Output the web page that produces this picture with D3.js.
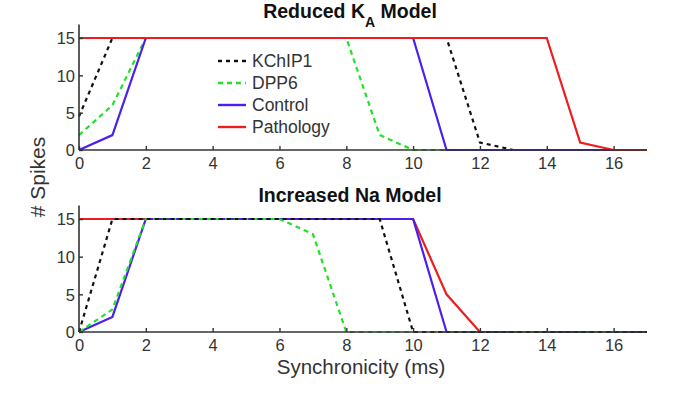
<!DOCTYPE html>
<html>
<head>
<meta charset="utf-8">
<script src="https://cdn.jsdelivr.net/npm/d3@7"></script>
<style>
  body { margin: 0; background: #fff; }
  svg { font-family: "Liberation Sans", Arial, Helvetica, sans-serif; }
</style>
</head>
<body>
<svg id="chart" width="685" height="393"></svg>
<script>
// x values shared by every series (ms)
const sync = [0, 1, 2, 3, 4, 5, 6, 7, 8, 9, 10, 11, 12, 13, 14, 15, 16, 17];
const xTicks = [0, 2, 4, 6, 8, 10, 12, 14, 16];
const yTicks = [0, 5, 10, 15];

// Reduced K_A model
const kaKChIP1   = [4.5, 15, 15, 15, 15, 15, 15, 15, 15, 15, 15, 15, 1, 0, 0, 0, 0, 0];
const kaDPP6     = [2, 6, 15, 15, 15, 15, 15, 15, 15, 2, 0, 0, 0, 0, 0, 0, 0, 0];
const kaControl  = [0, 2, 15, 15, 15, 15, 15, 15, 15, 15, 15, 0, 0, 0, 0, 0, 0, 0];
const kaPatho    = [15, 15, 15, 15, 15, 15, 15, 15, 15, 15, 15, 15, 15, 15, 15, 1, 0, 0];

// Increased Na model
const naKChIP1   = [0, 15, 15, 15, 15, 15, 15, 15, 15, 15, 0, 0, 0, 0, 0, 0, 0, 0];
const naDPP6     = [0, 3, 15, 15, 15, 15, 15, 13, 0, 0, 0, 0, 0, 0, 0, 0, 0, 0];
const naControl  = [0, 2, 15, 15, 15, 15, 15, 15, 15, 15, 15, 0, 0, 0, 0, 0, 0, 0];
const naPatho    = [15, 15, 15, 15, 15, 15, 15, 15, 15, 15, 15, 5, 0, 0, 0, 0, 0, 0];

const seriesNames = ['KChIP1', 'DPP6', 'Control', 'Pathology'];

const styles = {
  KChIP1:    { color: '#111', dash: '4,4' },
  DPP6:      { color: '#22e02a', dash: '5,4' },
  Control:   { color: '#4a1ff0', dash: null },
  Pathology: { color: '#ee1c1c', dash: null }
};

const svg = d3.select('#chart');
const x = d3.scaleLinear().domain([0, 17]).range([79, 647]);

function drawPanel(top, bottom, series, order) {
  const y = d3.scaleLinear().domain([0, 15]).range([bottom, top]);
  const g = svg.append('g');

  const line = d3.line()
    .x((d, i) => x(sync[i]))
    .y(d => y(d));

  order.forEach(name => {
    const st = styles[name];
    g.append('path')
      .datum(series[name])
      .attr('d', line)
      .attr('fill', 'none')
      .attr('stroke', st.color)
      .attr('stroke-width', 2.2)
      .attr('stroke-dasharray', st.dash);
  });

  // axes: ticks pointing inward like matlab
  const xAxis = g.append('g')
    .attr('transform', `translate(0,${bottom})`)
    .call(d3.axisBottom(x).tickValues(xTicks).tickSizeInner(-4).tickSizeOuter(0));
  const yAxis = g.append('g')
    .attr('transform', `translate(${x(0)},0)`)
    .call(d3.axisLeft(y).tickValues(yTicks).tickSizeInner(-4).tickSizeOuter(0));

  // y axis goes a bit above 15
  yAxis.select('.domain').attr('d', `M0,${y(16.8)}V${bottom}`);
  xAxis.select('.domain').attr('d', `M${x(0)},0H${x(17)}`);

  [xAxis, yAxis].forEach(a => {
    a.select('.domain').attr('stroke', '#333').attr('stroke-width', 1.6);
    a.selectAll('.tick line').attr('stroke', '#333').attr('stroke-width', 1.4);
    a.selectAll('.tick text').attr('fill', '#333').attr('font-size', 16.5);
  });
  xAxis.selectAll('.tick text').attr('y', 19).attr('dy', 0);
  yAxis.selectAll('.tick text').attr('x', -4).attr('dy', '0.36em');

  return { g, y };
}

// top panel
drawPanel(38, 150,
  { KChIP1: kaKChIP1, DPP6: kaDPP6, Control: kaControl, Pathology: kaPatho },
  ['KChIP1', 'DPP6', 'Control', 'Pathology']);

// bottom panel
drawPanel(219, 332,
  { KChIP1: naKChIP1, DPP6: naDPP6, Control: naControl, Pathology: naPatho },
  ['Pathology', 'Control', 'DPP6', 'KChIP1']);

// titles
const t1 = svg.append('text')
  .attr('x', 350).attr('y', 18)
  .attr('text-anchor', 'middle')
  .attr('font-size', 19.5).attr('font-weight', 'bold').attr('fill', '#111');
t1.append('tspan').text('Reduced K');
t1.append('tspan').attr('dy', 9).attr('font-size', 14).text('A');
t1.append('tspan').attr('dy', -9).text(' Model');

svg.append('text')
  .attr('x', 350).attr('y', 202)
  .attr('text-anchor', 'middle')
  .attr('font-size', 19.5).attr('font-weight', 'bold').attr('fill', '#111')
  .text('Increased Na Model');

// axis labels
svg.append('text')
  .attr('x', 361).attr('y', 374)
  .attr('text-anchor', 'middle')
  .attr('font-size', 20.5).attr('fill', '#333')
  .text('Synchronicity (ms)');

svg.append('text')
  .attr('transform', 'translate(45,177) rotate(-90)')
  .attr('text-anchor', 'middle')
  .attr('font-size', 21).attr('fill', '#333')
  .text('# Spikes');

// legend
const legend = svg.append('g');
seriesNames.forEach((name, i) => {
  const ly = 61 + i * 22;
  const st = styles[name];
  legend.append('line')
    .attr('x1', 218).attr('x2', 246)
    .attr('y1', ly).attr('y2', ly)
    .attr('stroke', st.color)
    .attr('stroke-width', 2.4)
    .attr('stroke-dasharray', st.dash);
  legend.append('text')
    .attr('x', 252).attr('y', ly)
    .attr('dy', '0.35em')
    .attr('font-size', 17.5).attr('fill', '#333')
    .text(name);
});
</script>
</body>
</html>
